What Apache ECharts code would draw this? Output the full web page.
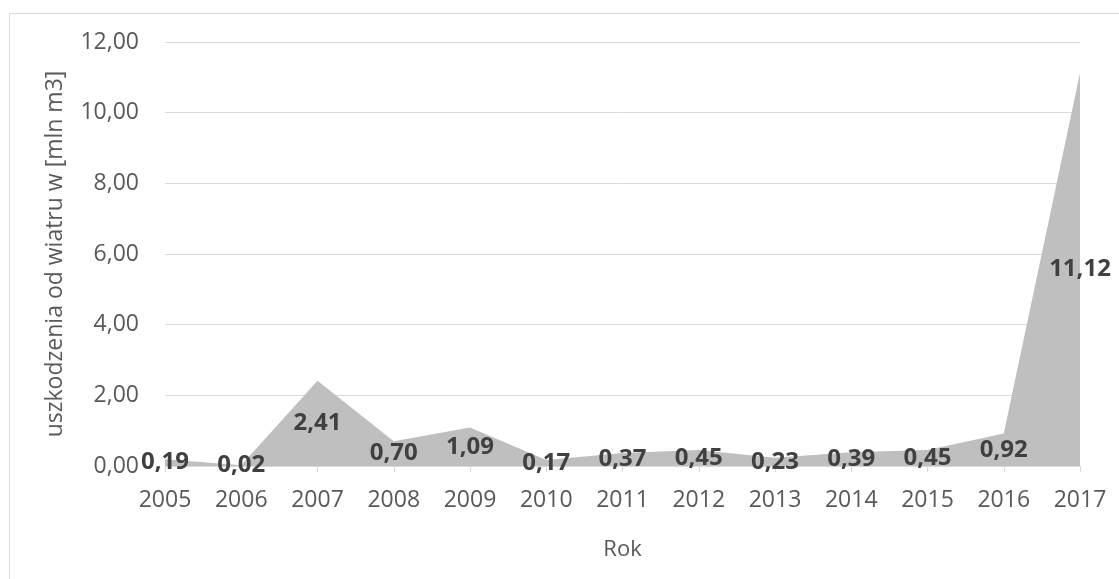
<!DOCTYPE html>
<html>
<head>
<meta charset="utf-8">
<script src="https://cdn.jsdelivr.net/npm/echarts@6/dist/echarts.min.js"></script>
<style>
  html, body { margin: 0; padding: 0; background: #fff; }
  #chart { width: 1119px; height: 579px; }
</style>
</head>
<body>
<div id="chart"></div>
<script>
// Wind damage volume per year
const years = ['2005', '2006', '2007', '2008', '2009', '2010', '2011', '2012', '2013', '2014', '2015', '2016', '2017'];
const damage = [0.19, 0.02, 2.41, 0.70, 1.09, 0.17, 0.37, 0.45, 0.23, 0.39, 0.45, 0.92, 11.12];
const yTicks = { min: 0, max: 12, interval: 2 };

const FONT = '"Open Sans", sans-serif';
const fmt = v => v.toFixed(2).replace('.', ',');

const chart = echarts.init(document.getElementById('chart'), null, { renderer: 'canvas' });

chart.setOption({
  backgroundColor: '#ffffff',
  animation: false,
  graphic: [{
    type: 'rect',
    shape: { x: 9.5, y: 13.5, width: 1130, height: 600 },
    style: { fill: 'none', stroke: '#d9d9d9', lineWidth: 1 },
    silent: true,
    z: -10
  }],
  grid: { left: 165, right: 39, top: 42, bottom: 113 },
  xAxis: {
    type: 'category',
    data: years,
    boundaryGap: false,
    name: 'Rok',
    nameLocation: 'middle',
    nameGap: 73,
    nameTextStyle: { fontFamily: FONT, fontSize: 22, color: '#595959' },
    axisLine: { lineStyle: { color: '#d9d9d9', width: 1 } },
    axisTick: { show: true, length: 6, lineStyle: { color: '#d9d9d9' } },
    axisLabel: { fontFamily: FONT, fontSize: 23, color: '#595959', margin: 23 },
    splitLine: { show: false }
  },
  yAxis: {
    type: 'value',
    min: yTicks.min,
    max: yTicks.max,
    interval: yTicks.interval,
    name: 'uszkodzenia od wiatru w [mln m3]',
    nameLocation: 'middle',
    nameGap: 98,
    nameTextStyle: { fontFamily: FONT, fontSize: 23, color: '#595959' },
    axisLine: { show: false },
    axisTick: { show: false },
    axisLabel: { fontFamily: FONT, fontSize: 23, color: '#595959', margin: 26, formatter: v => fmt(v) },
    splitLine: { lineStyle: { color: '#d9d9d9', width: 1 } }
  },
  series: [
    {
      type: 'line',
      data: damage,
      symbol: 'none',
      lineStyle: { width: 0, color: '#bfbfbf' },
      areaStyle: { color: '#bfbfbf', opacity: 1 },
      z: 2
    },
    {
      // value labels placed at half the height of each point
      type: 'custom',
      data: damage.map((v, i) => [i, v]),
      z: 5,
      renderItem: (params, api) => {
        const v = api.value(1);
        const pt = api.coord([api.value(0), v / 2]);
        return {
          type: 'text',
          x: pt[0],
          y: pt[1],
          style: {
            text: fmt(v),
            fontFamily: FONT,
            fontSize: 24,
            fontWeight: 'bold',
            fill: '#404040',
            align: 'center',
            verticalAlign: 'middle'
          }
        };
      }
    }
  ]
});
</script>
</body>
</html>
